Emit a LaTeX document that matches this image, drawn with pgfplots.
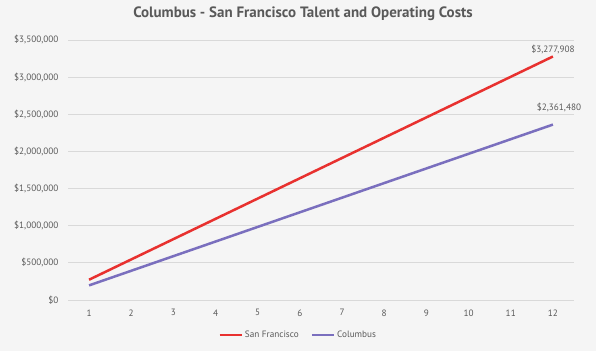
\documentclass[border=0pt]{standalone}
\usepackage{pgfplots}
\pgfplotsset{compat=1.18}
\usepackage{fontspec}
\setmainfont{PT Sans}
\definecolor{bg}{RGB}{245,245,245}
\definecolor{sfred}{RGB}{232,49,47}
\definecolor{colpur}{RGB}{122,111,190}
\definecolor{txt}{RGB}{89,89,89}
\definecolor{grid}{RGB}{217,217,217}
\begin{document}
\begin{tikzpicture}[x=1pt,y=1pt]
\fill[bg] (0,0) rectangle (596,351);
\begin{axis}[
  at={(68pt,51pt)}, anchor=south west,
  width=506pt, height=260pt, scale only axis,
  clip=false,
  xmin=0.5, xmax=12.5, ymin=0, ymax=3500000,
  xtick={1,...,12}, ytick={0,500000,...,3500000},
  axis line style={draw=none},
  major tick length=0pt, tick style={draw=none},
  xmajorgrids=false, ymajorgrids=true,
  y grid style={grid, line width=0.8pt},
  scaled y ticks=false,
  /pgf/number format/assume math mode=true,
  yticklabel={\$\pgfmathprintnumber[fixed,1000 sep={,}]{\tick}},
  ticklabel style={font=\fontsize{9.2}{11}\selectfont, text=txt},
  yticklabel style={xshift=-6pt},
  xticklabel style={yshift=-6pt},
  title={Columbus - San Francisco Talent and Operating Costs},
  title style={font=\fontsize{15}{18}\bfseries, text=txt, at={(axis description cs:0.5,1)}, anchor=center, yshift=20pt, xshift=-18pt},
  legend columns=2,
  legend style={draw=none, fill=none, at={(axis description cs:0.455,-0.135)}, anchor=center, font=\fontsize{9.2}{11}\selectfont, text=txt, /tikz/every even column/.append style={column sep=10pt}},
  legend image code/.code={\draw[#1, line width=2.5pt] (0pt,0pt) -- (22pt,0pt);},
]
\addplot[sfred, line width=2.5pt] coordinates {
(1,273159) (2,546318) (3,819477) (4,1092636) (5,1365795) (6,1638954)
(7,1912113) (8,2185272) (9,2458431) (10,2731590) (11,3004749) (12,3277908)};
\addlegendentry{San Francisco}
\addplot[colpur, line width=2.5pt] coordinates {
(1,196790) (2,393580) (3,590370) (4,787160) (5,983950) (6,1180740)
(7,1377530) (8,1574320) (9,1771110) (10,1967900) (11,2164690) (12,2361480)};
\addlegendentry{Columbus}
\node[anchor=center, font=\fontsize{9.2}{11}\selectfont, text=txt] at (axis cs:12,3277908) [yshift=7pt] {\$3,277,908};
\node[anchor=center, font=\fontsize{9.2}{11}\selectfont, text=txt] at (axis cs:12,2361480) [yshift=17pt, xshift=6pt] {\$2,361,480};
\end{axis}
\end{tikzpicture}
\end{document}
